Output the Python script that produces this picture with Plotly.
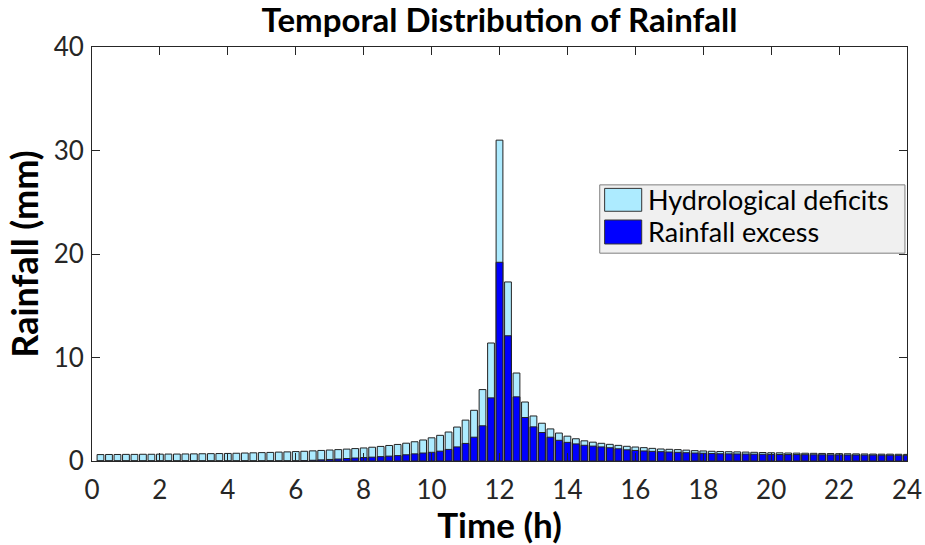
import plotly.graph_objects as go

# Time (h), 15-minute steps
time_h = [round(0.25 * k, 2) for k in range(1, 97)]

# Total rainfall per step (mm) = hydrological deficits + rainfall excess
total_rainfall = [
    0.62, 0.63, 0.63, 0.64, 0.64, 0.65, 0.65, 0.66,          # 0.25-2.0
    0.67, 0.67, 0.68, 0.69, 0.70, 0.71, 0.72, 0.73,          # 2.25-4.0
    0.75, 0.77, 0.79, 0.81, 0.83, 0.86, 0.88, 0.91,          # 4.25-6.0
    0.94, 0.98, 1.02, 1.06, 1.10, 1.15, 1.20, 1.26,          # 6.25-8.0
    1.33, 1.41, 1.50, 1.60, 1.72, 1.86, 2.03, 2.24,          # 8.25-10.0
    2.48, 2.80, 3.28, 3.95, 4.90, 6.90, 11.4, 31.0,          # 10.25-12.0
    17.3, 8.50, 5.70, 4.35, 3.65, 3.10, 2.70, 2.40,          # 12.25-14.0
    2.15, 1.95, 1.82, 1.71, 1.61, 1.51, 1.42, 1.35,          # 14.25-16.0
    1.29, 1.22, 1.16, 1.13, 1.10, 1.05, 1.00, 0.97,          # 16.25-18.0
    0.94, 0.92, 0.90, 0.88, 0.86, 0.84, 0.82, 0.80,          # 18.25-20.0
    0.79, 0.77, 0.76, 0.75, 0.74, 0.73, 0.72, 0.71,          # 20.25-22.0
    0.70, 0.69, 0.68, 0.67, 0.66, 0.66, 0.65, 0.64,          # 22.25-24.0
]

# Rainfall excess per step (mm)
rainfall_excess = [
    0, 0, 0, 0, 0, 0, 0, 0,                                  # 0.25-2.0
    0, 0, 0, 0, 0, 0, 0, 0,                                  # 2.25-4.0
    0, 0, 0, 0, 0, 0, 0, 0,                                  # 4.25-6.0
    0.03, 0.07, 0.11, 0.15, 0.19, 0.24, 0.29, 0.33,          # 6.25-8.0
    0.37, 0.42, 0.47, 0.52, 0.60, 0.69, 0.77, 0.84,          # 8.25-10.0
    0.95, 1.12, 1.36, 1.70, 2.30, 3.40, 6.10, 19.2,          # 10.25-12.0
    12.1, 6.20, 4.20, 3.30, 2.75, 2.30, 2.00, 1.80,          # 12.25-14.0
    1.65, 1.52, 1.44, 1.36, 1.28, 1.18, 1.08, 1.02,          # 14.25-16.0
    0.97, 0.93, 0.90, 0.87, 0.84, 0.80, 0.77, 0.75,          # 16.25-18.0
    0.72, 0.70, 0.69, 0.68, 0.67, 0.66, 0.65, 0.64,          # 18.25-20.0
    0.63, 0.62, 0.62, 0.61, 0.60, 0.60, 0.59, 0.59,          # 20.25-22.0
    0.58, 0.58, 0.57, 0.57, 0.56, 0.56, 0.55, 0.55,          # 22.25-24.0
]

series_names = ["Hydrological deficits", "Rainfall excess"]
series_colors = ["#ADEBFF", "#0000FF"]

x_ticks = [0, 2, 4, 6, 8, 10, 12, 14, 16, 18, 20, 22, 24]
y_ticks = [0, 10, 20, 30, 40]

FONT = "Lato"
TICK_COLOR = "#262626"

fig = go.Figure()
fig.add_trace(go.Bar(
    x=time_h, y=total_rainfall, name=series_names[0],
    marker=dict(color=series_colors[0], line=dict(color="#222222", width=1)),
    showlegend=False,
))
fig.add_trace(go.Bar(
    x=time_h, y=rainfall_excess, name=series_names[1],
    marker=dict(color=series_colors[1], line=dict(color="#222222", width=1)),
    showlegend=False,
))

# Legend drawn as a box with swatches (paper coordinates)
lx0, lx1, ly0, ly1 = 0.623, 0.9975, 0.502, 0.667
fig.add_shape(type="rect", xref="paper", yref="paper", x0=lx0, x1=lx1, y0=ly0, y1=ly1,
              fillcolor="#F0F0F0", line=dict(color="#7F7F7F", width=1), layer="above")
sw = [(0.6585, 0.6032), (0.5821, 0.5242)]
for (top, bot), col, name in zip(sw, series_colors, series_names):
    fig.add_shape(type="rect", xref="paper", yref="paper", x0=0.629, x1=0.6745, y0=bot, y1=top,
                  fillcolor=col, line=dict(color="#333333", width=1), layer="above")
    fig.add_annotation(xref="paper", yref="paper", x=0.6795, y=(top + bot) / 2, text=name,
                       showarrow=False, xanchor="left", yanchor="middle",
                       font=dict(family=FONT, size=27, color="#000000"))

fig.update_layout(
    width=925, height=545,
    margin=dict(l=92, r=18, t=47, b=84, autoexpand=False),
    paper_bgcolor="white", plot_bgcolor="white",
    barmode="overlay", bargap=0.2,
    title=dict(text="<b>Temporal Distribution of Rainfall</b>", x=0.5, xref="paper",
               y=0.962, yanchor="middle",
               font=dict(family=FONT, size=33, color="#000000")),
    font=dict(family=FONT),
)
fig.update_xaxes(
    range=[0, 24], tickvals=x_ticks, ticktext=[str(v) for v in x_ticks],
    automargin=False,
    showgrid=False, zeroline=False,
    showline=True, linecolor="#262626", linewidth=1, mirror="ticks",
    ticks="inside", ticklen=8, tickcolor="#262626", ticklabelstandoff=6,
    tickfont=dict(family=FONT, size=26, color=TICK_COLOR),
    title=dict(text="<b>Time (h)</b>", standoff=2,
               font=dict(family=FONT, size=35, color="#000000")),
)
fig.update_yaxes(
    range=[0, 40], tickvals=y_ticks, ticktext=[str(v) for v in y_ticks],
    automargin=False,
    showgrid=False, zeroline=False,
    showline=True, linecolor="#262626", linewidth=1, mirror="ticks",
    ticks="inside", ticklen=8, tickcolor="#262626", ticklabelstandoff=2,
    tickfont=dict(family=FONT, size=26, color=TICK_COLOR),
    title=dict(text="<b>Rainfall (mm)</b>", standoff=4,
               font=dict(family=FONT, size=36, color="#000000")),
)

fig.write_html("out.html")
